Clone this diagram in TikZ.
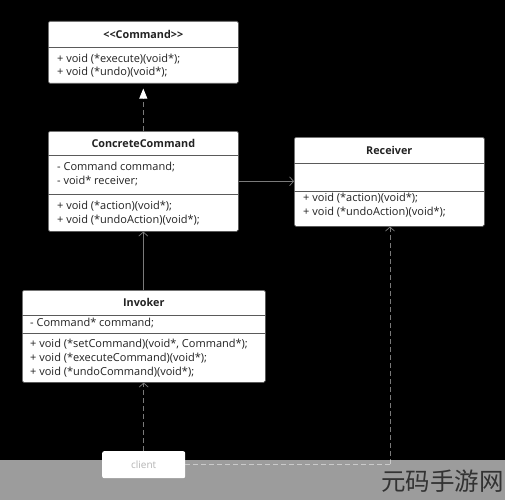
\documentclass[tikz,border=0pt]{standalone}
\usepackage{fontspec}
\setmainfont{Open Sans}
\newfontfamily\cjkfont{Noto Sans CJK SC}
\usetikzlibrary{arrows.meta}
\definecolor{linegray}{HTML}{7A7A7A}
\definecolor{bordergray}{HTML}{5A5A5A}
\definecolor{textdark}{HTML}{222222}
\tikzset{
  umlbox/.style={draw=bordergray, fill=white, rounded corners=1.5pt, line width=0.6pt, inner sep=0pt, anchor=north west},
  divider/.style={draw=bordergray, line width=0.6pt},
  title/.style={font=\fontsize{10.8}{12}\selectfont\bfseries, text=textdark, inner sep=0pt},
  members/.style={font=\fontsize{11}{13.8}\selectfont, text=textdark, align=left, anchor=north west, inner sep=0pt},
  assoc/.style={draw=linegray, line width=0.7pt, -{Straight Barb[length=4pt,width=9pt]}},
  dep/.style={draw=linegray, line width=0.7pt, dash pattern=on 5pt off 3pt, -{Straight Barb[length=4pt,width=9pt]}},
  real/.style={draw=linegray, line width=0.7pt, dash pattern=on 5pt off 3pt, -{Triangle[width=8pt,length=10pt,color=white]}},
  deplink/.style={draw=linegray, line width=0.7pt, dash pattern=on 5pt off 3pt},
}
\begin{document}
\begin{tikzpicture}[x=1pt,y=-1pt]
\useasboundingbox (0,0) rectangle (505,500);
\fill[black] (0,0) rectangle (505,500);

% Command
\node[umlbox, minimum width=190pt, minimum height=62pt] (cmd) at (48,21) {};
\draw[divider] ([yshift=-26pt]cmd.north west) -- ([yshift=-26pt]cmd.north east);
\node[title] (cmdt) at ([yshift=-13pt]cmd.north) {{<}{<}Command{>}{>}};
\node[members] (cmdm) at ([xshift=9pt,yshift=-32.5pt]cmd.north west) {+ void (*execute)(void*);\\+ void (*undo)(void*);};

% ConcreteCommand
\node[umlbox, minimum width=190pt, minimum height=100pt] (cc) at (48,131) {};
\draw[divider] ([yshift=-24pt]cc.north west) -- ([yshift=-24pt]cc.north east);
\draw[divider] ([yshift=-63pt]cc.north west) -- ([yshift=-63pt]cc.north east);
\node[title] (cct) at ([yshift=-12pt]cc.north) {ConcreteCommand};
\node[members] (ccf) at ([xshift=9pt,yshift=-31pt]cc.north west) {- Command command;\\- void* receiver;};
\node[members] (ccm) at ([xshift=9pt,yshift=-70pt]cc.north west) {+ void (*action)(void*);\\+ void (*undoAction)(void*);};

% Receiver
\node[umlbox, minimum width=190pt, minimum height=89pt] (rcv) at (294,137) {};
\draw[divider] ([yshift=-26pt]rcv.north west) -- ([yshift=-26pt]rcv.north east);
\draw[divider] ([yshift=-54pt]rcv.north west) -- ([yshift=-54pt]rcv.north east);
\node[title] (rcvt) at ([yshift=-13pt]rcv.north) {Receiver};
\node[members] (rcvm) at ([xshift=9pt,yshift=-56pt]rcv.north west) {+ void (*action)(void*);\\+ void (*undoAction)(void*);};

% Invoker
\node[umlbox, minimum width=243pt, minimum height=92pt] (inv) at (22,290) {};
\draw[divider] ([yshift=-25pt]inv.north west) -- ([yshift=-25pt]inv.north east);
\draw[divider] ([yshift=-43pt]inv.north west) -- ([yshift=-43pt]inv.north east);
\node[title] (invt) at ([yshift=-12pt]inv.north) {Invoker};
\node[members] (invf) at ([xshift=8pt,yshift=-28pt]inv.north west) {- Command* command;};
\node[members] (invm) at ([xshift=8pt,yshift=-49pt]inv.north west) {+ void (*setCommand)(void*, Command*);\\+ void (*executeCommand)(void*);\\+ void (*undoCommand)(void*);};

% client
\node[draw=none, fill=white, rounded corners=2pt, minimum width=83pt, minimum height=27pt, inner sep=0pt, anchor=north west, font=\fontsize{10}{11}\selectfont, text=black!75] (client) at (102,451) {client};

% connectors
\draw[real] (cc.north -| cmdt) -- ([yshift=-5pt]cmd.south);
\draw[assoc] (inv.north -| cct) -- (cc.south);
\draw[assoc] (cc.east) -- (rcv.west |- cc.east);
\draw[dep] (client.north) -- (inv.south -| client.north);
\coordinate (bend) at (390,464);
\draw[deplink] (client.east |- bend) -- (bend);
\draw[dep] (bend) -- (rcv.south -| bend);

% light overlay band
\fill[white, opacity=0.61] (0,460) rectangle (505,500);

% watermark
\node[anchor=base west, inner sep=0pt, font=\cjkfont\fontsize{24.5}{30}\selectfont, text=black!80] (wm) at (381,490) {元码手游网};
\end{tikzpicture}
\end{document}
